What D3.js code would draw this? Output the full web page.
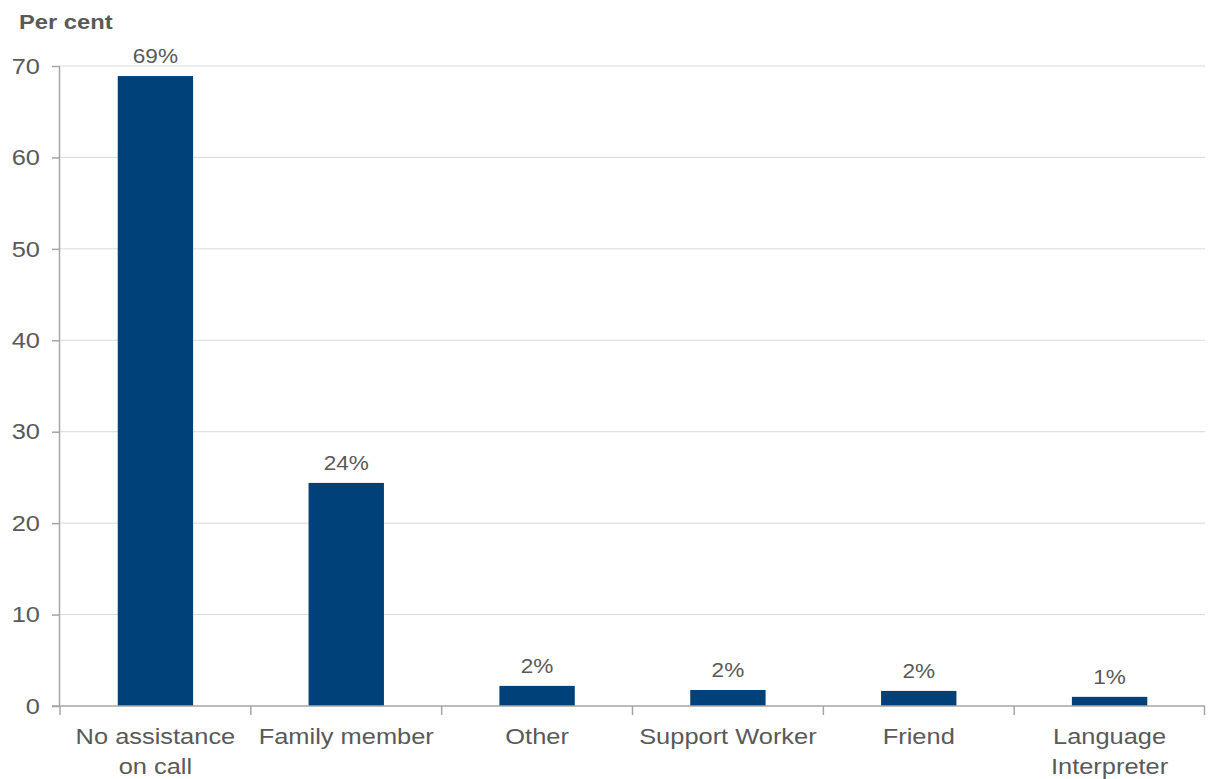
<!DOCTYPE html>
<html>
<head>
<meta charset="utf-8">
<script src="https://cdn.jsdelivr.net/npm/d3@7"></script>
<style>
  html, body { margin: 0; padding: 0; background: #fff; }
  svg { display: block; font-family: "Liberation Sans", Arial, sans-serif; }
</style>
</head>
<body>
<svg id="chart" width="1208" height="779"></svg>
<script>
// Who assisted on the call (per cent of calls)
const categories = [
  ["No assistance", "on call"],
  ["Family member"],
  ["Other"],
  ["Support Worker"],
  ["Friend"],
  ["Language", "Interpreter"]
];
const values = [68.9, 24.4, 2.2, 1.75, 1.65, 1.0];
const valueLabels = ["69%", "24%", "2%", "2%", "2%", "1%"];
const yTicks = [0, 10, 20, 30, 40, 50, 60, 70];
const yTitle = "Per cent";

const svg = d3.select("#chart");
const margin = { top: 66, right: 3, bottom: 73, left: 60 };
const width = 1208 - margin.left - margin.right;
const height = 779 - margin.top - margin.bottom;

const grey = "#595959";
const axisGrey = "#a6a6a6";
const stretch = 1.13; // text is set slightly wide

const keys = categories.map(d => d.join(" "));

const x = d3.scaleBand()
  .domain(keys)
  .range([0, width])
  .paddingInner(0.605)
  .paddingOuter(0.3025);

const y = d3.scaleLinear().domain([0, 70]).range([height, 0]);

const g = svg.append("g").attr("transform", `translate(${margin.left},${margin.top})`);

// gridlines
g.append("g")
  .selectAll("line")
  .data(yTicks.filter(t => t > 0))
  .join("line")
  .attr("x1", 0).attr("x2", width)
  .attr("y1", d => y(d)).attr("y2", d => y(d))
  .attr("stroke", "#d9d9d9")
  .attr("stroke-width", 1);

// bars
g.append("g")
  .selectAll("rect")
  .data(values)
  .join("rect")
  .attr("x", (d, i) => x(keys[i]))
  .attr("y", d => y(d))
  .attr("width", x.bandwidth())
  .attr("height", d => y(0) - y(d))
  .attr("fill", "#004179");

// value labels
g.append("g")
  .selectAll("text")
  .data(values)
  .join("text")
  .attr("transform", (d, i) => `translate(${x(keys[i]) + x.bandwidth() / 2},${y(d) - 13}) scale(${stretch},1)`)
  .attr("text-anchor", "middle")
  .attr("fill", grey)
  .attr("font-size", 20)
  .text((d, i) => valueLabels[i]);

// y axis: line, ticks and labels
const yAxis = g.append("g")
  .call(d3.axisLeft(y).tickValues(yTicks).tickSize(8).tickFormat(""));
yAxis.select(".domain").attr("stroke", axisGrey).attr("stroke-width", 1.5).attr("d", `M-0.5,${height}V0.5`);
yAxis.selectAll(".tick line").attr("stroke", axisGrey).attr("stroke-width", 1.5);
g.append("g")
  .selectAll("text")
  .data(yTicks)
  .join("text")
  .attr("transform", d => `translate(-20,${y(d)}) scale(${stretch},1)`)
  .attr("dy", "0.34em")
  .attr("text-anchor", "end")
  .attr("fill", grey)
  .attr("font-size", 22.5)
  .text(d3.format("d"));

// x axis with ticks at category boundaries
const xAxisG = g.append("g").attr("transform", `translate(0,${height})`);
xAxisG.append("line")
  .attr("x1", -8).attr("x2", width)
  .attr("y1", 0).attr("y2", 0)
  .attr("stroke", axisGrey).attr("stroke-width", 1.5);
const step = x.step();
xAxisG.selectAll("line.bt")
  .data(d3.range(keys.length + 1))
  .join("line")
  .attr("class", "bt")
  .attr("x1", i => Math.min(i * step, width - 0.5))
  .attr("x2", i => Math.min(i * step, width - 0.5))
  .attr("y1", 0).attr("y2", 9)
  .attr("stroke", axisGrey).attr("stroke-width", 1.5);

// category labels
const catText = xAxisG.selectAll("text.cat")
  .data(categories)
  .join("text")
  .attr("class", "cat")
  .attr("text-anchor", "middle")
  .attr("fill", grey)
  .attr("font-size", 22.5)
  .attr("transform", (d, i) => `translate(${x(keys[i]) + x.bandwidth() / 2},0) scale(${stretch},1)`);
catText.selectAll("tspan")
  .data(d => d)
  .join("tspan")
  .attr("x", 0)
  .attr("y", (d, j) => 38 + j * 30)
  .text(d => d);

// y title
svg.append("text")
  .attr("transform", `translate(19,29) scale(${stretch},1)`)
  .attr("fill", grey)
  .attr("font-size", 21)
  .attr("font-weight", "bold")
  .text(yTitle);
</script>
</body>
</html>
